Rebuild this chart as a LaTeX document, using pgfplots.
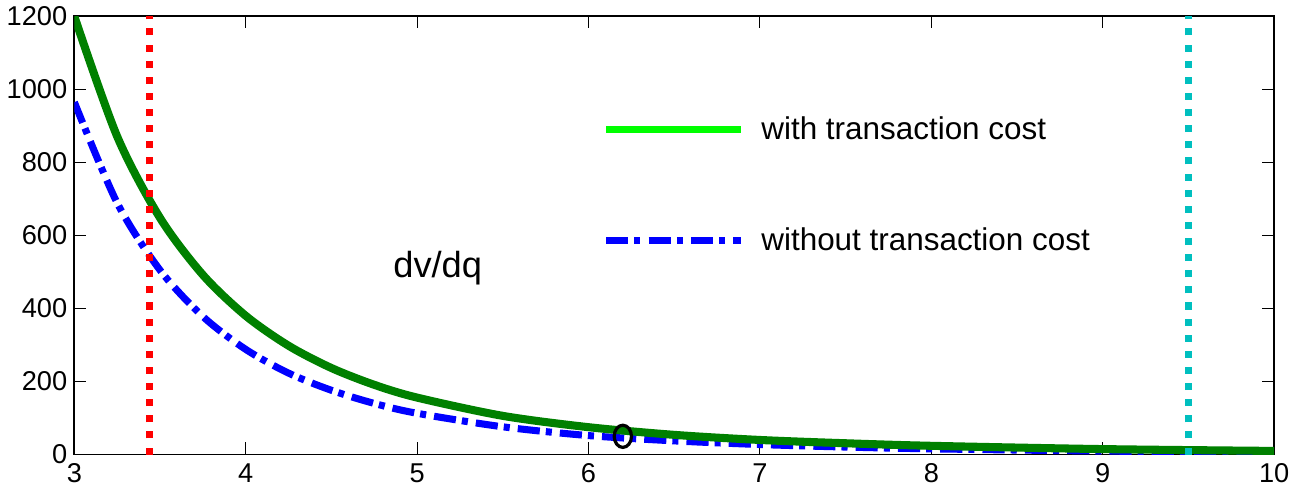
\documentclass[border=0pt]{standalone}
\usepackage{pgfplots}
\pgfplotsset{compat=1.18}
\usepackage{fontspec}
\setmainfont{Liberation Sans}
\definecolor{dkgreen}{rgb}{0,0.5,0}
\definecolor{brgreen}{rgb}{0,1,0}
\definecolor{mblue}{rgb}{0,0,1}
\definecolor{mcyan}{rgb}{0,0.75,0.75}
\begin{document}
\begin{tikzpicture}
\begin{axis}[
  scale only axis,
  width=595.5pt, height=217.5pt,
  xmin=3, xmax=10, ymin=0, ymax=1200,
  xtick={3,4,5,6,7,8,9,10},
  ytick={0,200,400,600,800,1000,1200},
  tick align=inside, tickpos=both,
  major tick length=6pt,
  every tick/.style={black, line width=0.5pt},
  axis line style={line width=0.9pt},
  tick label style={font=\fontsize{13.5}{15}\selectfont},
  /pgf/number format/assume math mode=true,
  /pgf/number format/1000 sep={},
  xticklabel style={yshift=-1pt},
  legend style={draw=none, fill=none, at={(0.435,0.79)}, anchor=north west,
    font=\fontsize{15.6}{18}\selectfont, row sep=38pt, cells={anchor=west}},
  legend cell align=left,
]
\addplot[mblue, line width=3.5pt, smooth, line cap=butt,
  dash pattern=on 11pt off 3pt on 3pt off 4pt,
  forget plot] coordinates {
(3,965) (3.25,689) (3.5,505) (3.75,378) (4,288) (4.25,223) (4.5,176) (4.75,140)
(5,113) (5.5,76) (6,52) (6.5,37.5) (7,27.5) (7.5,20.6) (8,15.7) (9,9.6) (10,6.1)};
\addplot[dkgreen, line width=4pt, smooth,
  legend image code/.code={\draw[brgreen, line width=3.5pt] (0pt,0pt) -- (67pt,0pt); \path (73pt,0pt);}]
  coordinates {
(3,1200) (3.25,871) (3.5,648) (3.75,492) (4,380) (4.25,298) (4.5,237) (4.75,191)
(5,156) (5.5,106) (6,75) (6.5,54) (7,40) (7.5,31) (8,24) (9,15) (10,10)};
\addlegendentry{with transaction cost}
\addlegendimage{mblue, line width=3.5pt, line cap=butt,
  legend image code/.code={\draw[mblue, line width=3.5pt, dash pattern=on 11pt off 3pt on 3pt off 4pt] (0pt,0pt) -- (67pt,0pt); \path (73pt,0pt);}}
\addlegendentry{without transaction cost}
\addplot[red, line width=3.5pt, dash pattern=on 3.5pt off 4.5pt, forget plot]
  coordinates {(3.44,0) (3.44,1200)};
\addplot[mcyan, line width=3.5pt, dash pattern=on 3.5pt off 4.5pt, forget plot]
  coordinates {(9.5,0) (9.5,1200)};
\addplot[black, only marks, mark=o, mark size=5.5pt,
  mark options={line width=1.6pt, xscale=0.78}, forget plot]
  coordinates {(6.2,50)};
\node[font=\fontsize{18}{20}\selectfont] at (axis cs:5.12,510) {dv/dq};
\end{axis}
\end{tikzpicture}
\end{document}
